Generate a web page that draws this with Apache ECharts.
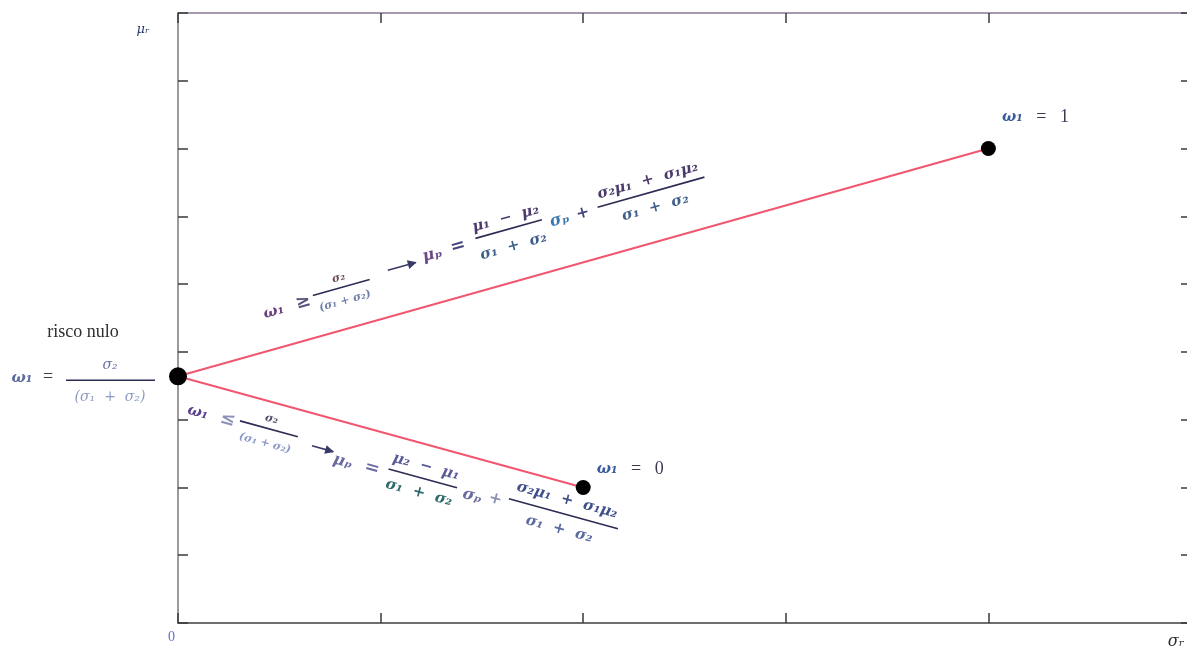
<!DOCTYPE html>
<html>
<head>
<meta charset="utf-8">
<script src="https://cdn.jsdelivr.net/npm/echarts@6/dist/echarts.min.js"></script>
<style>
  html, body { margin: 0; padding: 0; background: #ffffff; }
  #chart { width: 1187px; height: 650px; }
</style>
</head>
<body>
<div id="chart"></div>
<script>
// Two-asset frontier with perfectly negatively correlated returns:
// the portfolio line runs from asset 2 (ω₁ = 0) to the zero-risk point
// and on to asset 1 (ω₁ = 1).
const pointNames = ['ω₁ = 0', 'risco nulo', 'ω₁ = 1'];
const riskSigma   = [2, 0, 4];      // σ of each portfolio
const returnMu    = [2, 3.64, 7];   // μ of each portfolio
const xTicks = [0, 1, 2, 3, 4, 5];
const yTicks = [0, 1, 2, 3, 4, 5, 6, 7, 8, 9];

const MATH = '"DejaVu Serif", "Liberation Serif", serif';
const SERIF = '"Liberation Serif", "DejaVu Serif", serif';
const INK = '#44447a';
const BAR = '#2c2c55';

const chart = echarts.init(document.getElementById('chart'));

const axisCommon = (min, max, step) => ({
  type: 'value', min: min, max: max, interval: step,
  axisLine: { show: true, onZero: false, lineStyle: { color: '#7a7a7a', width: 1.5 } },
  axisTick: { show: true, inside: true, length: 10, lineStyle: { color: '#3a3a3a', width: 1.5 } },
  splitLine: { show: false },
  axisLabel: { show: false }
});

const pointLabel = (offset) => ({
  show: true, position: 'right', distance: 6, offset: offset,
  formatter: (p) => {
    const parts = p.name.split(' = ');
    return '{w|' + parts[0] + '}{t|   =   ' + parts[1] + '}';
  },
  rich: {
    w: { fontFamily: MATH, fontStyle: 'italic', fontWeight: 'bold', fontSize: 15, color: '#3a5c9c' },
    t: { fontFamily: SERIF, fontSize: 18, color: '#3a3a55' }
  }
});

const seriesData = riskSigma.map((s, i) => {
  const item = { name: pointNames[i], value: [s, returnMu[i]] };
  if (i === 0) item.label = pointLabel([0, -18]);
  if (i === 1) item.symbolSize = 18;
  if (i === 2) item.label = pointLabel([0, -31]);
  return item;
});

chart.setOption({
  animation: false,
  backgroundColor: '#ffffff',
  // the plot box runs a few pixels past the right edge of the page
  grid: { left: 178, top: 13, right: -4, bottom: 27, containLabel: false, outerBoundsMode: 'none' },
  xAxis: [
    Object.assign(axisCommon(xTicks[0], xTicks[xTicks.length - 1], 1), {
      position: 'bottom',
      axisLine: { show: true, onZero: false, lineStyle: { color: '#3f3f3f', width: 1.5 } },
      axisLabel: {
        show: true, margin: 7, align: 'right', padding: [0, 3, 0, 0],
        formatter: (v) => (v === xTicks[0] ? String(v) : ''),
        color: '#5b6fd6', fontFamily: SERIF, fontSize: 14
      }
    }),
    Object.assign(axisCommon(xTicks[0], xTicks[xTicks.length - 1], 1), {
      position: 'top',
      axisLine: { show: true, onZero: false, lineStyle: { color: '#8a7a96', width: 1.5 } }
    })
  ],
  yAxis: [
    Object.assign(axisCommon(yTicks[0], yTicks[yTicks.length - 1], 1), { position: 'left' }),
    Object.assign(axisCommon(yTicks[0], yTicks[yTicks.length - 1], 1), { position: 'right' })
  ],
  series: [{
    type: 'line',
    data: seriesData,
    symbol: 'circle',
    symbolSize: 15,
    lineStyle: { color: '#f2566e', width: 2 },
    itemStyle: { color: '#000000' },
    z: 3
  }]
});

// ---- annotations, placed relative to the plotted points ----
const px = (i) => chart.convertToPixel({ xAxisIndex: 0, yAxisIndex: 0 }, [riskSigma[i], returnMu[i]]);
const pLow = px(0), pZero = px(1), pHigh = px(2);
const angUp = Math.atan2(pZero[1] - pHigh[1], pHigh[0] - pZero[0]);
const angDown = Math.atan2(pLow[1] - pZero[1], pLow[0] - pZero[0]);

function txt(s, x, y, size, color, family, italic, weight) {
  return {
    type: 'text', x: x, y: y,
    style: {
      text: s, fill: color || INK,
      font: (italic === false ? '' : 'italic ') + (weight ? weight + ' ' : '') + size + 'px ' + (family || MATH),
      align: 'center', verticalAlign: 'middle',
      textAlign: 'center', textVerticalAlign: 'middle'
    }
  };
}
// formula glyphs are set in a heavier weight
function ftxt(s, x, y, size, color) { return txt(s, x, y, size, color, MATH, true, 'bold'); }
function hline(x1, x2, y, color, w) {
  return { type: 'line', shape: { x1: x1, y1: y, x2: x2, y2: y },
           style: { stroke: color || BAR, lineWidth: w || 1.6 } };
}
function frac(x1, x2, yBar, num, yNum, den, yDen, size, cNum, cDen) {
  const cx = (x1 + x2) / 2;
  return [
    hline(x1, x2, yBar),
    ftxt(num, cx, yNum, size, cNum),
    ftxt(den, cx, yDen, size, cDen)
  ];
}
function arrow(x1, x2, y, color) {
  const c = color || '#3a3a66';
  return [
    hline(x1, x2 - 1, y, c, 1.6),
    { type: 'polygon', shape: { points: [[x2, y], [x2 - 9, y - 4.5], [x2 - 9, y + 4.5]] }, style: { fill: c } }
  ];
}

const upperFormula = [].concat(
  [ftxt('ω₁', 6, 0, 15, '#6a3f7e'), ftxt('≥', 37, -1, 18, '#55557a')],
  frac(48, 107, -5, 'σ₂', -15, '(σ₁ + σ₂)', 9, 11, '#6a4a5a', '#7080a8'),
  arrow(127, 157, -9),
  [ftxt('μₚ', 174, -12, 16, '#6a4a86'), ftxt('=', 201, -13, 18)],
  frac(220, 289, -16, 'μ₁  −  μ₂', -27, 'σ₁  +  σ₂', 2, 15, '#4a3a6a', '#3f5f8a'),
  [ftxt('σₚ', 306, -11, 16, '#3a78b0'), ftxt('+', 330, -11, 16)],
  frac(346, 457, -13, 'σ₂μ₁  +  σ₁μ₂', -25, 'σ₁  +  σ₂', 3, 15, '#4a3a6a', '#3f5f8a')
);

const lowerFormula = [].concat(
  [ftxt('ω₁', 8, 0, 15, '#5a3f8e'), ftxt('≤', 39, -1, 18, '#8a90b8')],
  frac(51, 111, -3, 'σ₂', -13, '(σ₁ + σ₂)', 12, 11, '#4a4a6a', '#8a98c8'),
  arrow(127, 150, 2),
  [ftxt('μₚ', 161, 9, 16, '#6a6aa0'), ftxt('=', 191, 8, 18, '#6a6aa0')],
  frac(207, 278, 4, 'μ₂  −  μ₁', -8, 'σ₁  +  σ₂', 19, 15, '#5a5a9a', '#2f6a6a'),
  [ftxt('σₚ', 295, 8, 16, '#6a6aa0'), ftxt('+', 318, 5, 16, '#8a90b8')],
  frac(331, 444, 1, 'σ₂μ₁  +  σ₁μ₂', -13, 'σ₁  +  σ₂', 17, 15, '#3f4f8a', '#5a6aa0')
);

const zeroRiskNote = [
  txt('risco nulo', -95, -44, 18, '#2e2e2e', SERIF, false),
  txt('ω₁', -156, 2, 15, '#5a6a9a', MATH, true, 'bold'),
  txt('=', -130, 1, 18, '#3a3a55', SERIF, false),
  hline(-112, -23, 4, '#2c2c55', 1.6),
  txt('σ₂', -68, -11, 14, '#6a70a0'),
  txt('(σ₁  +  σ₂)', -68, 21, 14, '#8a9ac0')
];

const gridTopLeft = chart.convertToPixel({ xAxisIndex: 0, yAxisIndex: 0 }, [xTicks[0], yTicks[yTicks.length - 1]]);
const gridBottomRight = chart.convertToPixel({ xAxisIndex: 0, yAxisIndex: 0 }, [xTicks[xTicks.length - 1], yTicks[0]]);

function txtAt(s, x, y, size, color) {
  const t = txt(s, 0, 0, size, color);
  t.x = x; t.y = y;
  return t;
}

chart.setOption({
  graphic: [
    { type: 'group', x: pZero[0] + 90, y: pZero[1] - 63, rotation: angUp, children: upperFormula },
    { type: 'group', x: pZero[0] + 12, y: pZero[1] + 34, rotation: -angDown, children: lowerFormula },
    { type: 'group', x: pZero[0], y: pZero[1], children: zeroRiskNote },
    txtAt('μᵣ', gridTopLeft[0] - 35, gridTopLeft[1] + 17, 13, '#2a3a6a'),
    txtAt('σᵣ', 1176, gridBottomRight[1] + 19, 16, '#2e2e2e')
  ]
});
</script>
</body>
</html>
